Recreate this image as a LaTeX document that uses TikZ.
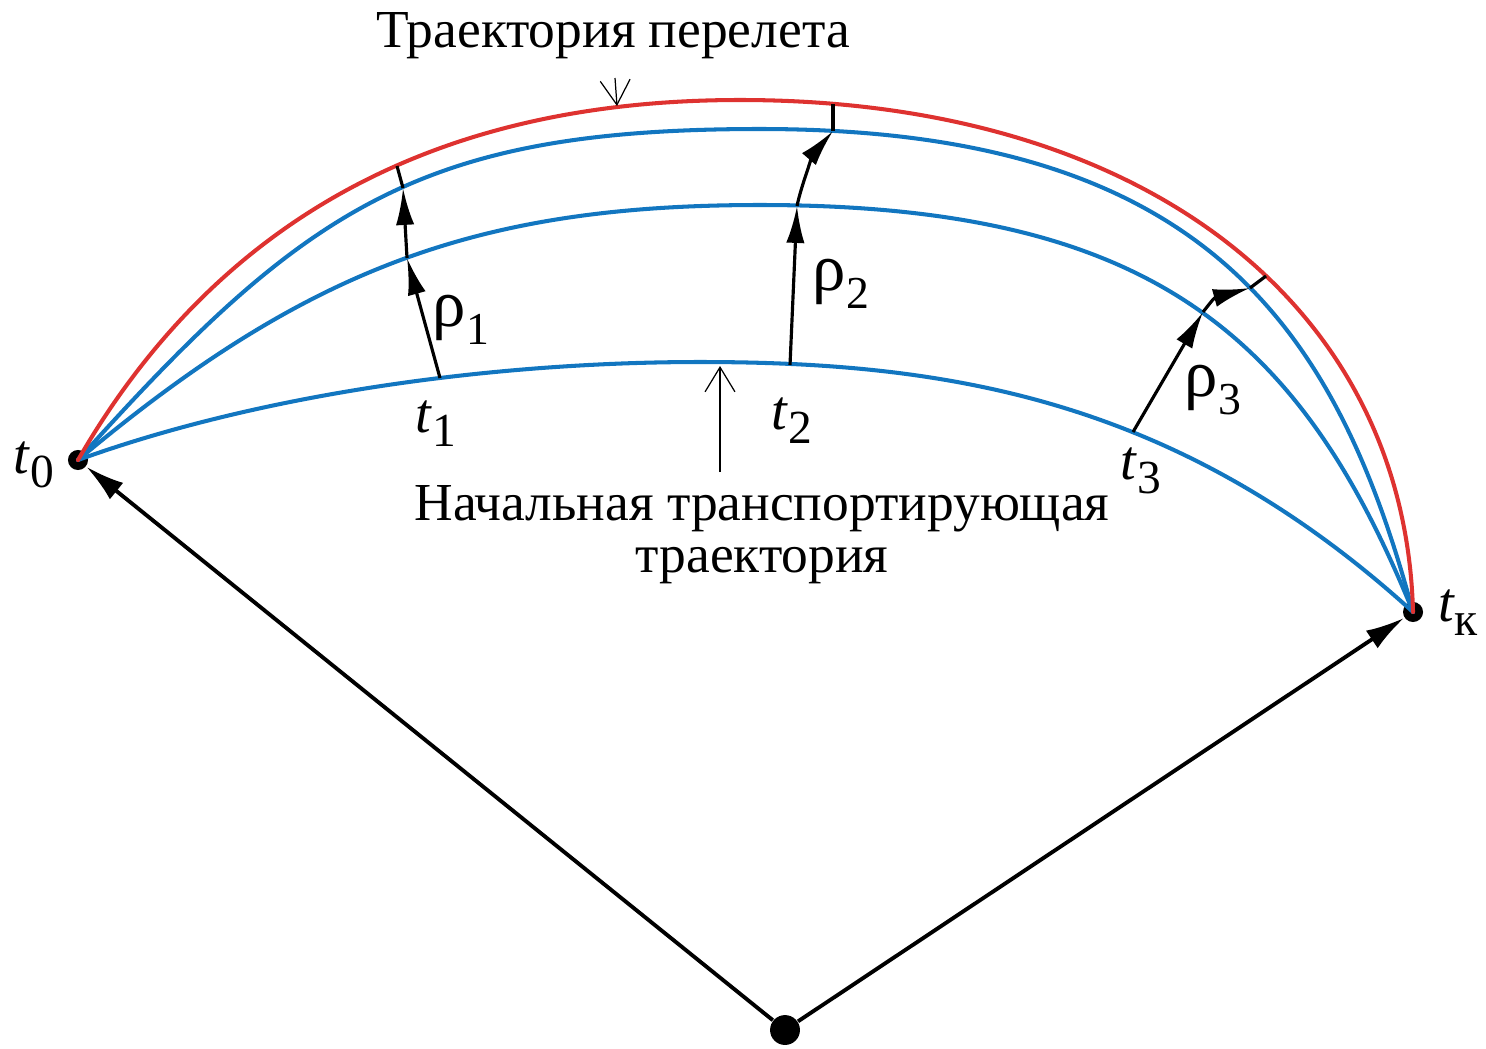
\documentclass[tikz,border=0pt]{standalone}
\usepackage{fontspec}
\setmainfont{Liberation Serif}
\usetikzlibrary{arrows.meta}
\definecolor{tred}{RGB}{222,50,48}
\definecolor{tblue}{RGB}{18,118,192}
\newcommand\tsub[2]{\textit{#1}\raisebox{-4pt}{\fontsize{13.5}{13.5}\selectfont #2}}
\newcommand\rsub[2]{#1\raisebox{-5pt}{\fontsize{13}{13}\selectfont #2}}
\begin{document}
\begin{tikzpicture}[x=0.01cm,y=-0.01cm,
  traj/.style={line width=1.15pt, line join=round, line cap=round},
  redtraj/.style={traj, draw=tred},
  bluetraj/.style={traj, draw=tblue},
  vec/.style={line width=0.9pt, -{Latex[length=10.5pt,width=5.2pt]}},
  radvec/.style={line width=1.1pt, -{Latex[length=11pt,width=6pt]}},
  tick/.style={line width=0.9pt},
  pointer/.style={line width=0.35pt, -{Straight Barb[length=7pt,width=8.5pt]}},
  dot/.style={circle, fill=black, inner sep=0pt, minimum size=5.7pt},
  bigdot/.style={circle, fill=black, inner sep=0pt, minimum size=8.5pt},
  txt/.style={font=\fontsize{15.2}{15.2}\selectfont, inner sep=0pt},
  tlbl/.style={font=\fontsize{16}{16}\selectfont, inner sep=0pt},
  rlbl/.style={font=\fontsize{19}{19}\selectfont, inner sep=0pt}]
\useasboundingbox (0,0) rectangle (1486,1048);

% end points
\node[dot] (T0) at (78,460) {};
\node[dot] (TK) at (1413,612) {};
\node[bigdot] (O) at (785,1030) {};

% trajectories
\draw[bluetraj] (T0.center) .. controls (266,392) and (500,362) .. (700,362)
                            .. controls (950,362) and (1180,400) .. (TK.center);
\draw[bluetraj] (T0.center) .. controls (308,267) and (480,205) .. (760,205)
                            .. controls (1150,205) and (1300,334) .. (TK.center);
\draw[bluetraj] (T0.center) .. controls (305,207) and (420,129) .. (760,129)
                            .. controls (1200,129) and (1335,322) .. (TK.center);
\draw[redtraj]  (T0.center) .. controls (243,174) and (500,100) .. (740,100)
                            .. controls (1144,100) and (1405,305) .. (TK.center);

% radius vectors
\draw[radvec] (O) -- (T0);
\draw[radvec] (O) -- (TK);

% points on trajectories
\coordinate (A1) at (440,378); \coordinate (B1) at (407,258);
\coordinate (C1) at (403,188); \coordinate (D1) at (397,166);
\coordinate (A2) at (790,365); \coordinate (B2) at (797,206);
\coordinate (C2) at (833,131); \coordinate (D2) at (833,104);
\coordinate (A3) at (1133,432); \coordinate (B3) at (1203,312);
\coordinate (C3) at (1250,288); \coordinate (D3) at (1266,276);

\draw[vec] (A1) -- (B1);
\draw[vec] (B1) -- (C1);
\draw[tick] (C1) -- (D1);
\draw[vec] (A2) -- (B2);
\draw[vec] (B2) .. controls (802,182) and (815,152) .. (C2);
\draw[tick] (C2) -- (D2);
\draw[vec] (A3) -- (B3);
\draw[vec] (B3) .. controls (1214,298) .. (C3);
\draw[tick] (C3) -- (D3);

% pointers
\coordinate (P1s) at (615,78); \coordinate (P1e) at (617,106);
\coordinate (P2s) at (720,472); \coordinate (P2e) at (720,366);
\draw[pointer] (P1s) -- (P1e);
\draw[pointer] (P2s) -- (P2e);

% texts
\node[txt, anchor=base] (title) at (613,47) {Траектория перелета};
\node[txt, anchor=base] (init1) at (762,520) {Начальная транспортирующая};
\node[txt, anchor=base] (init2) at (762,572) {траектория};

\node[tlbl] (l0) at (34,465) {\tsub{t}{0}};
\node[tlbl] (l1) at (436,424) {\tsub{t}{1}};
\node[tlbl] (l2) at (792,421) {\tsub{t}{2}};
\node[tlbl] (l3) at (1141,471) {\tsub{t}{3}};
\node[tlbl] (lk) at (1458,613) {\tsub{t}{к}};

\node[rlbl] (r1) at (461,320) {\rsub{ρ}{1}};
\node[rlbl] (r2) at (841,284) {\rsub{ρ}{2}};
\node[rlbl] (r3) at (1213,390) {\rsub{ρ}{3}};
\end{tikzpicture}
\end{document}
